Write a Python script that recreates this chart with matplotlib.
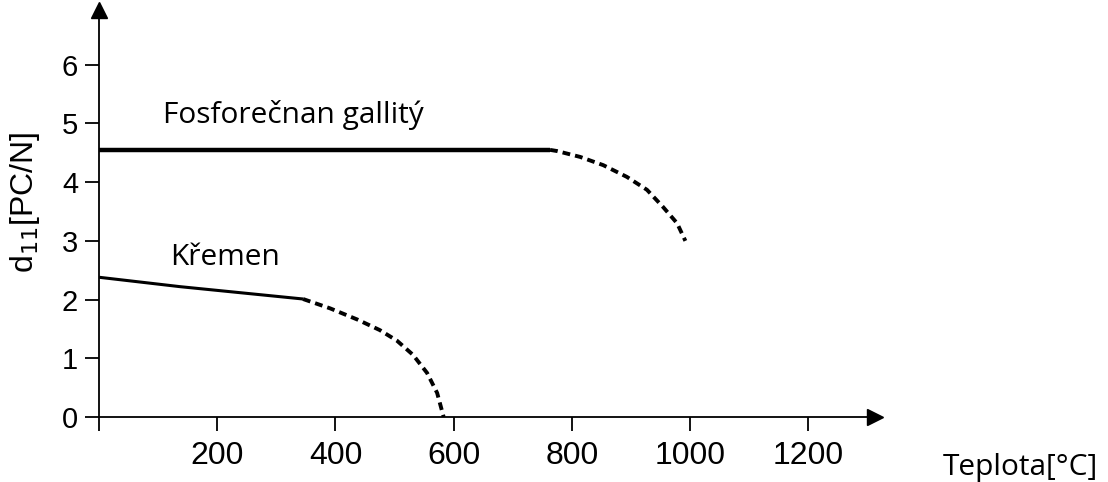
import numpy as np
import matplotlib.pyplot as plt

# Fosforečnan gallitý (GaPO4)
gapo_solid_t = [0, 763]
gapo_solid_d = [4.55, 4.55]
gapo_dash_t = [763, 775, 814, 853, 893, 927, 954, 978, 992]
gapo_dash_d = [4.55, 4.53, 4.43, 4.29, 4.09, 3.87, 3.58, 3.30, 3.00]

# Křemen (quartz)
qtz_solid_t = [0, 137, 345]
qtz_solid_d = [2.38, 2.22, 2.01]
qtz_dash_t = [345, 391, 437, 475, 504, 531, 555, 572, 583]
qtz_dash_d = [2.01, 1.85, 1.66, 1.48, 1.30, 1.06, 0.75, 0.41, 0.0]

xticks = [200, 400, 600, 800, 1000, 1200]
yticks = [0, 1, 2, 3, 4, 5, 6]

fig = plt.figure(figsize=(11.08, 4.82), dpi=100)
ax = fig.add_axes([0.0894, 0.1349, 0.7004, 0.844])
ax.set_xlim(0, 1313)
ax.set_ylim(0, 6.93)

ax.plot(gapo_solid_t, gapo_solid_d, color='black', lw=3.2, solid_capstyle='butt')
ax.plot(gapo_dash_t, gapo_dash_d, color='black', lw=2.8, ls=(0, (2.0, 1.3)))
ax.plot(qtz_solid_t, qtz_solid_d, color='black', lw=2.2, solid_capstyle='butt')
ax.plot(qtz_dash_t, qtz_dash_d, color='black', lw=2.8, ls=(0, (2.0, 1.3)))

for s in ['top', 'right']:
    ax.spines[s].set_visible(False)
for s in ['left', 'bottom']:
    ax.spines[s].set_linewidth(1.3)

# arrow heads on axes
ax.plot(1, 0, '>k', ms=11, transform=ax.get_yaxis_transform(), clip_on=False)
ax.plot(0, 1, '^k', ms=11, transform=ax.get_xaxis_transform(), clip_on=False)

ax.set_xticks([0] + xticks)
ax.set_xticklabels([''] + [str(v) for v in xticks])
ax.set_yticks(yticks)
ax.tick_params(axis='both', direction='out', length=10, width=1.3, colors='black')
ax.tick_params(axis='x', pad=7, labelsize=23)
ax.tick_params(axis='y', pad=5, labelsize=21)
for lab in ax.get_xticklabels() + ax.get_yticklabels():
    lab.set_family('Liberation Sans')

ax.set_ylabel('d$_{11}$[PC/N]', fontsize=23, family='Liberation Sans')
ax.yaxis.set_label_coords(-0.073, 0.528)

ax.text(108, 5.14, 'Fosforečnan gallitý', fontsize=21.5, family='Open Sans', va='center')
ax.text(120, 2.72, 'Křemen', fontsize=21.5, family='Open Sans', va='center')
fig.text(0.851, 0.031, 'Teplota[°C]', fontsize=21.5, family='Open Sans', va='center')

fig.savefig('out.png', dpi=100)
